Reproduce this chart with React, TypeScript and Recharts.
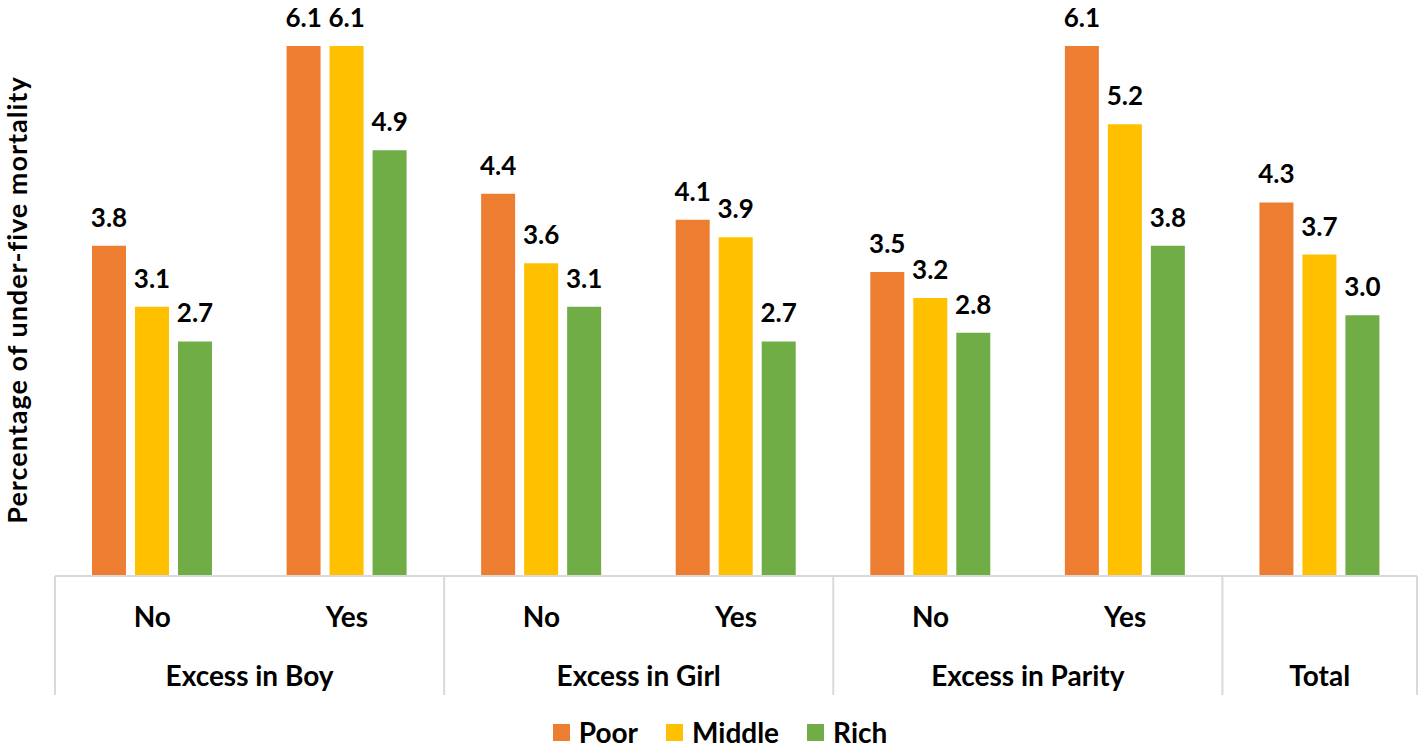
import { Bar, BarChart, LabelList, Legend, XAxis, YAxis } from 'recharts';

const categories = ['No', 'Yes', 'No', 'Yes', 'No', 'Yes', ''];
const groupNames = ['Excess in Boy', 'Excess in Girl', 'Excess in Parity', 'Total'];
const groupSpans = [2, 2, 2, 1];

const poor = [3.8, 6.1, 4.4, 4.1, 3.5, 6.1, 4.3];
const middle = [3.1, 6.1, 3.6, 3.9, 3.2, 5.2, 3.7];
const rich = [2.7, 4.9, 3.1, 2.7, 2.8, 3.8, 3.0];

const series = [
  { key: 'poor', name: 'Poor', color: '#ED7D31' },
  { key: 'middle', name: 'Middle', color: '#FFC000' },
  { key: 'rich', name: 'Rich', color: '#70AD47' },
];

const FONT = 'Lato, "Open Sans", sans-serif';
const GRID = '#d9d9d9';

const data = categories.map((sub, i) => ({
  key: `c${i}`,
  sub,
  poor: poor[i],
  middle: middle[i],
  rich: rich[i],
}));

const groupStarts = groupSpans.map((_, g) =>
  groupSpans.slice(0, g).reduce((a, b) => a + b, 0),
);

function CategoryTick(props: any) {
  const { x, y, payload, index } = props;
  const half = payload?.offset || (1424 - 55 - 7) / categories.length / 2;
  const i = typeof index === 'number' ? index : payload.index;
  const g = groupStarts.indexOf(i);
  const textStyle = { fontFamily: FONT, fontWeight: 700, fontSize: 28, fill: '#000' };
  return (
    <g>
      <text x={x} y={y + 51} textAnchor="middle" {...textStyle}>
        {categories[i]}
      </text>
      {g >= 0 && (
        <>
          <line x1={x - half} x2={x - half} y1={y} y2={y + 119} stroke={GRID} strokeWidth={2} />
          <text
            x={x + (groupSpans[g] - 1) * half}
            y={y + 110}
            textAnchor="middle"
            {...textStyle}
          >
            {groupNames[g]}
          </text>
        </>
      )}
      {i === categories.length - 1 && (
        <line x1={x + half} x2={x + half} y1={y} y2={y + 119} stroke={GRID} strokeWidth={2} />
      )}
    </g>
  );
}

// keep the legend in series order (recharts sorts it by name otherwise)
function LegendContent() {
  return (
    <div
      style={{
        display: 'flex',
        justifyContent: 'center',
        alignItems: 'center',
        gap: 28,
        paddingLeft: 16,
        fontFamily: FONT,
        fontWeight: 700,
        fontSize: 28,
        lineHeight: 1,
        color: '#000',
      }}
    >
      {series.map((s) => (
        <div key={s.key} style={{ display: 'flex', alignItems: 'center' }}>
          <span
            style={{
              display: 'inline-block',
              width: 17,
              height: 17,
              background: s.color,
              marginRight: 9,
            }}
          />
          <span>{s.name}</span>
        </div>
      ))}
    </div>
  );
}

const labelProps = {
  position: 'top' as const,
  offset: 19,
  fill: '#000',
  fontSize: 26,
  fontWeight: 700,
  fontFamily: FONT,
  formatter: (v: any) => Number(v).toFixed(1),
};

export default function App() {
  return (
    <div style={{ position: 'absolute', left: 0, top: 0, background: '#fff' }}>
      <BarChart
        width={1424}
        height={748}
        data={data}
        barGap={9}
        margin={{ top: 46, right: 7, left: 0, bottom: 0 }}
      >
        <XAxis
          dataKey="key"
          height={172}
          interval={0}
          tickSize={0}
          tickMargin={0}
          tickLine={false}
          axisLine={{ stroke: GRID, strokeWidth: 2 }}
          tick={<CategoryTick />}
        />
        <YAxis
          width={55}
          domain={[0, 6.1]}
          tick={false}
          tickLine={false}
          axisLine={false}
          label={{
            value: 'Percentage of under-five mortality',
            angle: -90,
            position: 'center',
            dx: -10,
            dy: -11,
            fill: '#000',
            fontSize: 27,
            fontWeight: 700,
            fontFamily: FONT,
            letterSpacing: 1,
          }}
        />
        <Legend
          layout="horizontal"
          verticalAlign="middle"
          align="center"
          content={<LegendContent />}
          wrapperStyle={{ top: 718, left: 0, width: 1424 }}
        />
        {series.map((s) => (
          <Bar
            key={s.key}
            dataKey={s.key}
            name={s.name}
            fill={s.color}
            barSize={34}
            isAnimationActive={false}
          >
            <LabelList dataKey={s.key} {...labelProps} />
          </Bar>
        ))}
      </BarChart>
    </div>
  );
}
